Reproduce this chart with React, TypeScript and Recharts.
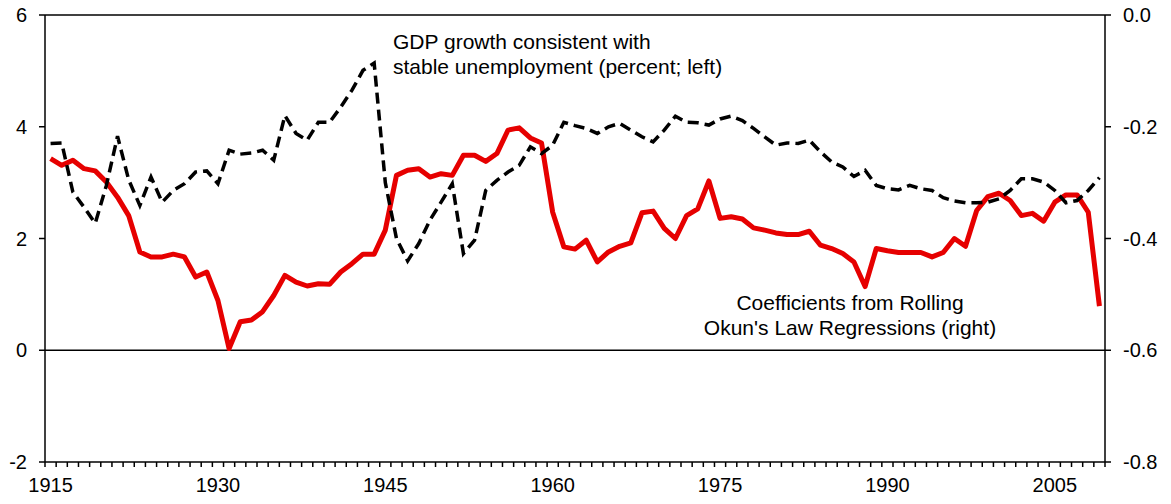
import React from 'react';
import {
  LineChart,
  Line,
  XAxis,
  YAxis,
  ReferenceLine,
} from 'recharts';

// GDP growth consistent with stable unemployment (percent, left axis), 1915-2009
const gdpGrowth = [
  3.70, 3.71, 2.83, 2.56, 2.27, 2.95, 3.83, 3.05, 2.59, 3.10,
  2.65, 2.86, 2.98, 3.19, 3.21, 2.98, 3.58, 3.51, 3.53, 3.58,
  3.40, 4.20, 3.88, 3.76, 4.08, 4.08, 4.35, 4.65, 5.01, 5.14,
  3.00, 2.00, 1.60, 1.91, 2.33, 2.65, 2.98, 1.73, 1.97, 2.86,
  3.04, 3.19, 3.31, 3.64, 3.52, 3.67, 4.08, 4.02, 3.97, 3.88,
  4.00, 4.06, 3.94, 3.82, 3.73, 3.94, 4.19, 4.08, 4.07, 4.03,
  4.14, 4.19, 4.11, 3.97, 3.82, 3.67, 3.71, 3.70, 3.76, 3.55,
  3.37, 3.28, 3.11, 3.22, 2.95, 2.89, 2.87, 2.95, 2.89, 2.86,
  2.73, 2.67, 2.64, 2.64, 2.65, 2.71, 2.86, 3.07, 3.07, 3.01,
  2.86, 2.64, 2.68, 2.86, 3.09,
];

// Okun's law coefficients from rolling regressions (right axis), 1915-2009
const okunCoef = [
  -0.257, -0.269, -0.260, -0.275, -0.279, -0.299, -0.326, -0.359, -0.424, -0.433,
  -0.433, -0.428, -0.433, -0.469, -0.460, -0.511, -0.597, -0.549, -0.546, -0.531,
  -0.502, -0.466, -0.478, -0.485, -0.481, -0.482, -0.460, -0.445, -0.428, -0.428,
  -0.385, -0.287, -0.278, -0.275, -0.290, -0.284, -0.287, -0.251, -0.251, -0.262,
  -0.248, -0.206, -0.202, -0.220, -0.229, -0.353, -0.415, -0.419, -0.403, -0.442,
  -0.424, -0.414, -0.408, -0.354, -0.351, -0.382, -0.400, -0.359, -0.347, -0.297,
  -0.364, -0.361, -0.365, -0.381, -0.385, -0.390, -0.393, -0.393, -0.387, -0.412,
  -0.418, -0.427, -0.442, -0.486, -0.418, -0.422, -0.425, -0.425, -0.425, -0.433,
  -0.425, -0.400, -0.414, -0.350, -0.325, -0.319, -0.332, -0.359, -0.355, -0.369,
  -0.335, -0.322, -0.322, -0.353, -0.521,
];

const firstYear = 1915;
const years = gdpGrowth.map((_, i) => firstYear + i);
const yearLabels = [1915, 1930, 1945, 1960, 1975, 1990, 2005];
const leftTicks = [-2, 0, 2, 4, 6];
const rightTicks = [-0.8, -0.6, -0.4, -0.2, 0];

const data = years.map((year, i) => ({
  year,
  gdp: gdpGrowth[i],
  okun: okunCoef[i],
}));

// tick marks sit between the years, like an Excel category axis
const yearEdges = [...years.map((y) => y - 0.5), years[years.length - 1] + 0.5];
const xDomain = [yearEdges[0], yearEdges[yearEdges.length - 1]];

const font = '"Liberation Sans", Arial, sans-serif';
const tickStyle = { fill: '#000', fontSize: 20, fontFamily: font };
const axisStroke = { stroke: '#000', strokeWidth: 1.5 };

// label drawn in the middle of the year that starts at this tick mark
const YearTick = (props: any) => {
  const { x, y, payload, width } = props;
  const year = payload.value + 0.5;
  if (!yearLabels.includes(year)) return <g />;
  const halfYear = width / (xDomain[1] - xDomain[0]) / 2;
  return (
    <text x={x + halfYear} y={y} dy="0.71em" textAnchor="middle" {...tickStyle}>
      {year}
    </text>
  );
};

const App = () => {
  return (
    <div style={{ position: 'absolute', left: 0, top: 0, width: 1171, height: 504, background: '#fff' }}>
      <LineChart
        width={1171}
        height={504}
        data={data}
        margin={{ top: 15, right: 0, left: 0, bottom: 0 }}
      >
        <XAxis
          dataKey="year"
          type="number"
          domain={xDomain}
          ticks={yearEdges}
          interval={0}
          tick={<YearTick />}
          tickSize={5}
          tickMargin={11}
          height={42}
          axisLine={axisStroke}
          tickLine={axisStroke}
          allowDataOverflow
        />
        <YAxis
          yAxisId="left"
          domain={[-2, 6]}
          ticks={leftTicks}
          interval={0}
          width={45}
          tick={tickStyle}
          tickSize={6}
          tickMargin={12}
          axisLine={axisStroke}
          tickLine={axisStroke}
        />
        <YAxis
          yAxisId="right"
          orientation="right"
          domain={[-0.8, 0]}
          ticks={rightTicks}
          interval={0}
          width={66}
          tick={tickStyle}
          tickSize={6}
          tickMargin={12}
          tickFormatter={(v: number) => v.toFixed(1)}
          axisLine={axisStroke}
          tickLine={axisStroke}
        />
        <ReferenceLine yAxisId="left" y={6} stroke="#000" strokeWidth={1.5} />
        <ReferenceLine yAxisId="left" y={0} stroke="#000" strokeWidth={1.5} />
        <Line
          yAxisId="right"
          dataKey="okun"
          type="linear"
          stroke="#e60000"
          strokeWidth={5}
          strokeLinejoin="round"
          dot={false}
          isAnimationActive={false}
        />
        <Line
          yAxisId="left"
          dataKey="gdp"
          type="linear"
          stroke="#000"
          strokeWidth={3.5}
          strokeDasharray="11 6"
          dot={false}
          isAnimationActive={false}
        />
      </LineChart>
      <div
        style={{
          position: 'absolute',
          left: 393,
          top: 29,
          fontFamily: font,
          fontSize: 21,
          lineHeight: '25px',
          color: '#000',
          whiteSpace: 'nowrap',
        }}
      >
        GDP growth consistent with
        <br />
        stable unemployment (percent; left)
      </div>
      <div
        style={{
          position: 'absolute',
          left: 650,
          width: 400,
          top: 290,
          fontFamily: font,
          fontSize: 21,
          lineHeight: '25px',
          color: '#000',
          textAlign: 'center',
          whiteSpace: 'nowrap',
        }}
      >
        Coefficients from Rolling
        <br />
        Okun's Law Regressions (right)
      </div>
    </div>
  );
};

export default App;
